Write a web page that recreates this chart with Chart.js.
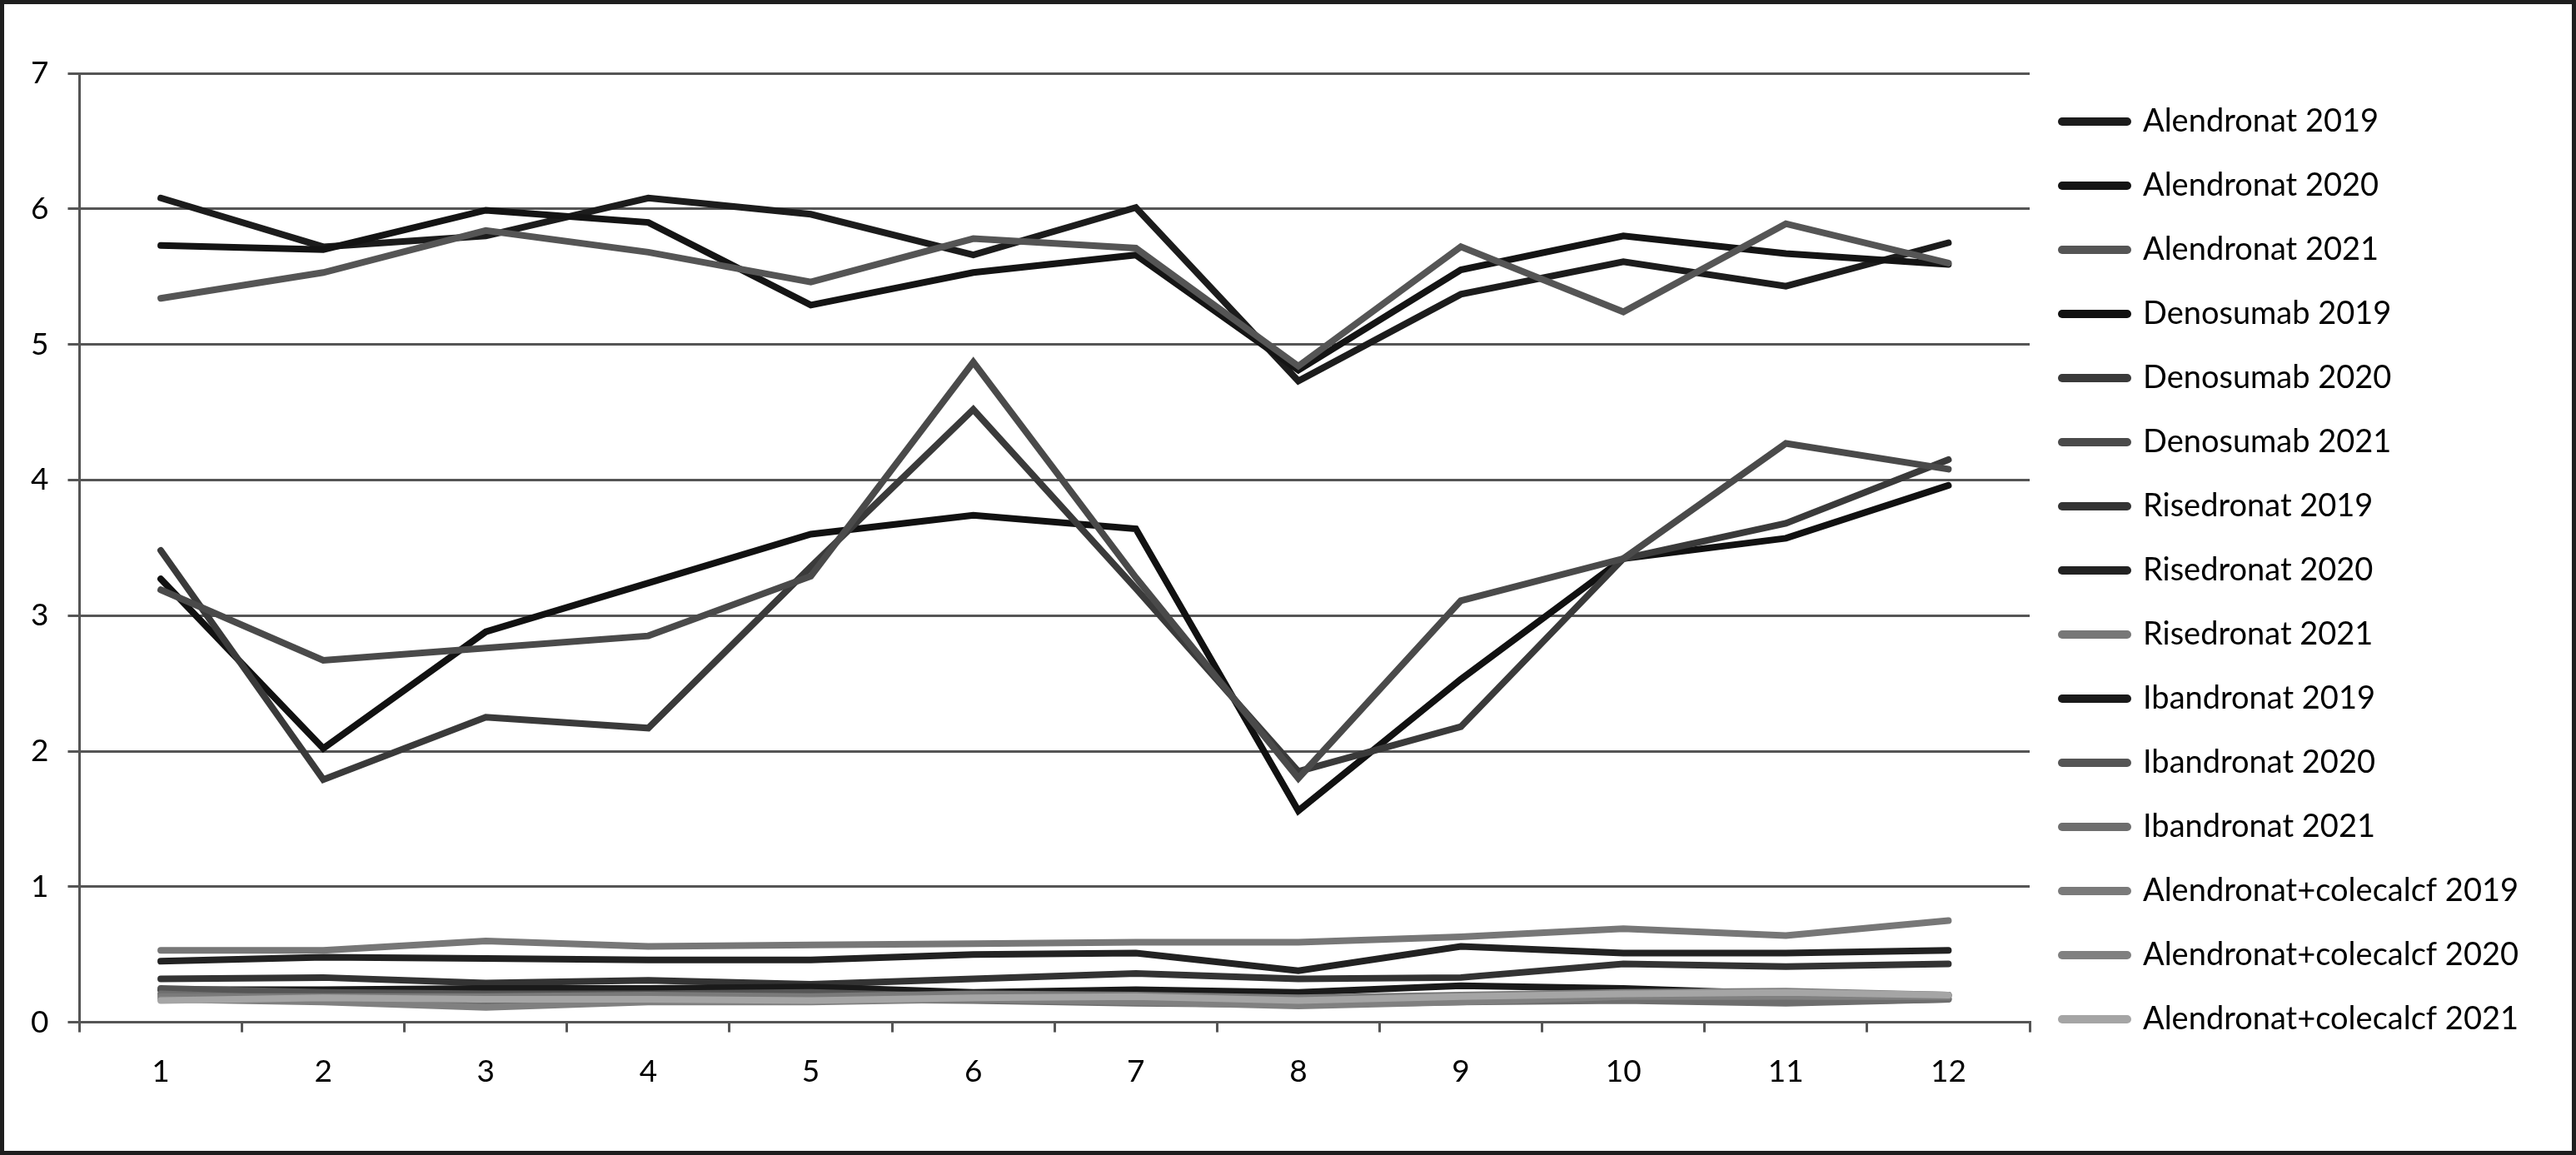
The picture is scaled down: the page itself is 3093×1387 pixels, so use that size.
<!DOCTYPE html>
<html>
<head>
<meta charset="utf-8">
<script src="https://cdn.jsdelivr.net/npm/chart.js@4.4.1/dist/chart.umd.min.js"></script>
<style>
    html, body { margin: 0; padding: 0; background: #fff; }
    #wrap { width: 3093px; height: 1387px; }
</style>
</head>
<body>
<div id="wrap"><canvas id="chart" width="3093" height="1387"></canvas></div>
<script>
// Monate
const months = ['1', '2', '3', '4', '5', '6', '7', '8', '9', '10', '11', '12'];
const yTicks = [0, 1, 2, 3, 4, 5, 6, 7];

const seriesNames = [
    'Alendronat 2019', 'Alendronat 2020', 'Alendronat 2021',
    'Denosumab 2019', 'Denosumab 2020', 'Denosumab 2021',
    'Risedronat 2019', 'Risedronat 2020', 'Risedronat 2021',
    'Ibandronat 2019', 'Ibandronat 2020', 'Ibandronat 2021',
    'Alendronat+colecalcf 2019', 'Alendronat+colecalcf 2020', 'Alendronat+colecalcf 2021'
];

const alendronat2019 = [6.08, 5.72, 5.80, 6.08, 5.96, 5.66, 6.01, 4.73, 5.37, 5.61, 5.43, 5.75];
const alendronat2020 = [5.73, 5.70, 5.99, 5.90, 5.29, 5.53, 5.66, 4.81, 5.55, 5.80, 5.67, 5.59];
const alendronat2021 = [5.34, 5.53, 5.84, 5.68, 5.46, 5.78, 5.71, 4.84, 5.72, 5.24, 5.89, 5.60];
const denosumab2019 = [3.27, 2.02, 2.88, 3.24, 3.60, 3.74, 3.64, 1.56, 2.53, 3.42, 3.57, 3.96];
const denosumab2020 = [3.48, 1.79, 2.25, 2.17, 3.36, 4.52, 3.20, 1.85, 2.18, 3.42, 3.68, 4.15];
const denosumab2021 = [3.19, 2.67, 2.76, 2.85, 3.29, 4.87, 3.28, 1.80, 3.11, 3.42, 4.27, 4.08];
const risedronat2019 = [0.32, 0.33, 0.29, 0.31, 0.28, 0.32, 0.36, 0.32, 0.33, 0.43, 0.41, 0.43];
const risedronat2020 = [0.45, 0.48, 0.47, 0.46, 0.46, 0.50, 0.51, 0.38, 0.56, 0.51, 0.51, 0.53];
const risedronat2021 = [0.53, 0.53, 0.60, 0.56, 0.57, 0.58, 0.59, 0.59, 0.63, 0.69, 0.64, 0.75];
const ibandronat2019 = [0.24, 0.24, 0.25, 0.25, 0.26, 0.22, 0.24, 0.22, 0.27, 0.25, 0.21, 0.20];
const ibandronat2020 = [0.25, 0.22, 0.21, 0.21, 0.22, 0.19, 0.17, 0.15, 0.18, 0.19, 0.15, 0.17];
const ibandronat2021 = [0.21, 0.17, 0.12, 0.16, 0.17, 0.16, 0.14, 0.13, 0.15, 0.16, 0.14, 0.17];
const alcol2019 = [0.19, 0.19, 0.19, 0.20, 0.19, 0.21, 0.20, 0.18, 0.20, 0.22, 0.23, 0.20];
const alcol2020 = [0.17, 0.15, 0.11, 0.15, 0.15, 0.17, 0.15, 0.12, 0.15, 0.19, 0.19, 0.19];
const alcol2021 = [0.16, 0.18, 0.17, 0.17, 0.16, 0.18, 0.19, 0.16, 0.19, 0.21, 0.22, 0.20];

const seriesValues = [
    alendronat2019, alendronat2020, alendronat2021,
    denosumab2019, denosumab2020, denosumab2021,
    risedronat2019, risedronat2020, risedronat2021,
    ibandronat2019, ibandronat2020, ibandronat2021,
    alcol2019, alcol2020, alcol2021
];

// Graustufen wie im Original
const seriesColors = [
    '#1c1c1c', '#141414', '#555555',
    '#111111', '#3a3a3a', '#4a4a4a',
    '#333333', '#222222', '#777777',
    '#1a1a1a', '#555555', '#6e6e6e',
    '#7a7a7a', '#808080', '#a5a5a5'
];

const FONT = 'Lato';
const LEGEND_SIZE = 38;
const TICK_SIZE = 37;
const LEGEND_PAD = 39;
const LINE_W = 78;

// Breite der Legende vorab messen, damit die Plotfläche bei x=2437 endet
const mctx = document.createElement('canvas').getContext('2d');
mctx.font = LEGEND_SIZE + 'px ' + FONT;
const maxText = Math.max(...seriesNames.map(n => mctx.measureText(n).width));
const legendWidth = 2 * LEGEND_PAD + LINE_W + LEGEND_SIZE / 2 + maxText;
const padRight = Math.max(0, 3093 - 2437 - legendWidth + 29);

const frame = {
    id: 'frame',
    beforeDraw(chart) {
        const c = chart.ctx;
        c.save();
        c.fillStyle = '#ffffff';
        c.fillRect(0, 0, chart.width, chart.height);
        c.restore();
    },
    afterDraw(chart) {
        const c = chart.ctx;
        c.save();
        c.strokeStyle = '#1e1e1e';
        c.lineWidth = 5;
        c.strokeRect(2.5, 2.5, chart.width - 5, chart.height - 5);
        c.restore();
    }
};

const datasets = seriesNames.map((name, i) => ({
    label: name,
    data: seriesValues[i],
    borderColor: seriesColors[i],
    backgroundColor: seriesColors[i],
    borderWidth: 8,
    borderCapStyle: 'round',
    borderJoinStyle: 'miter',
    pointRadius: 0,
    tension: 0,
    fill: false,
    order: seriesNames.length - i
}));

new Chart(document.getElementById('chart'), {
    type: 'line',
    data: { labels: months, datasets },
    plugins: [frame],
    options: {
        responsive: false,
        animation: false,
        devicePixelRatio: 1,
        layout: { padding: { top: 88, bottom: 53, left: 14, right: padRight } },
        plugins: {
            tooltip: { enabled: false },
            legend: {
                position: 'right',
                align: 'start',
                labels: {
                    usePointStyle: true,
                    pointStyle: 'line',
                    pointStyleWidth: LINE_W,
                    padding: LEGEND_PAD,
                    color: '#000',
                    font: { family: FONT, size: LEGEND_SIZE },
                    sort: (a, b) => a.datasetIndex - b.datasetIndex,
                    generateLabels(chart) {
                        const items = Chart.defaults.plugins.legend.labels.generateLabels(chart);
                        items.forEach(it => { it.lineWidth = 10; it.lineCap = 'round'; });
                        return items;
                    }
                }
            }
        },
        scales: {
            x: {
                type: 'category',
                offset: true,
                grid: {
                    offset: true,
                    drawOnChartArea: false,
                    drawTicks: true,
                    tickLength: 12,
                    color: '#555',
                    lineWidth: 3
                },
                border: { display: true, color: '#555', width: 3 },
                ticks: {
                    color: '#000',
                    padding: 25,
                    maxRotation: 0,
                    font: { family: FONT, size: TICK_SIZE }
                }
            },
            y: {
                min: yTicks[0],
                max: yTicks[yTicks.length - 1],
                afterBuildTicks(scale) {
                    scale.ticks = yTicks.map(v => ({ value: v }));
                },
                grid: {
                    drawTicks: true,
                    tickLength: 14,
                    color: '#555',
                    lineWidth: 3
                },
                border: { display: true, color: '#555', width: 3 },
                ticks: {
                    color: '#000',
                    padding: 23,
                    font: { family: FONT, size: TICK_SIZE }
                }
            }
        }
    }
});
</script>
</body>
</html>
